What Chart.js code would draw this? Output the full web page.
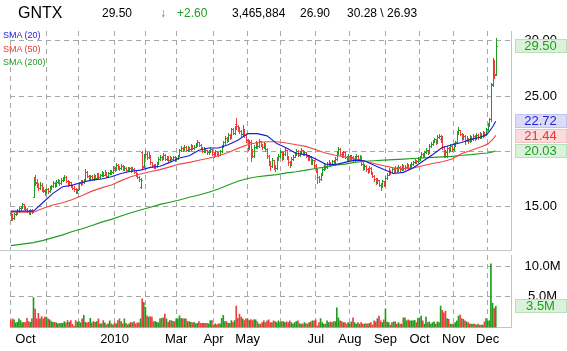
<!DOCTYPE html>
<html>
<head>
<meta charset="utf-8">
<script src="https://cdn.jsdelivr.net/npm/chart.js@4.4.1/dist/chart.umd.min.js"></script>
<style>
  body { margin: 0; background: #fff; }
  #wrap { position: relative; width: 567px; height: 351px; overflow: hidden; font-family: 'Liberation Sans', Arial, sans-serif; }
  #wrap canvas { position: absolute; left: 0; }
  .t { position: absolute; white-space: nowrap; line-height: 1; }
  .hd { top: 7px; font-size: 12px; color: #000; }
  .lg { left: 3px; font-size: 9px; }
  #sep { position: absolute; left: 0; top: 250px; width: 511px; height: 1px; background: #c6cac6; }
</style>
</head>
<body>
<div id="wrap">
  <canvas id="priceChart" width="567" height="251" style="top:0"></canvas>
  <canvas id="volumeChart" width="567" height="100" style="top:251px"></canvas>
  <div id="sep"></div>
  <span class="t" style="left:18px;top:5px;font-size:16px;color:#000">GNTX</span>
  <span class="t hd" style="left:102px">29.50</span>
  <span class="t hd" style="left:160px;color:#e83232">&#8595;</span>
  <span class="t hd" style="left:177px;color:#1f9f1f">+2.60</span>
  <span class="t hd" style="left:232px">3,465,884</span>
  <span class="t hd" style="left:300px">26.90</span>
  <span class="t hd" style="left:347px">30.28 \ 26.93</span>
  <span class="t lg" style="top:31px;color:#2222dd">SMA (20)</span>
  <span class="t lg" style="top:44.5px;color:#ee3333">SMA (50)</span>
  <span class="t lg" style="top:57.5px;color:#1f9f1f">SMA (200)</span>
</div>
<script>
// daily bars, Oct 1 2009 .. Dec 2010 (index = trading day)
const opens = [
  14.4, 14.1, 13.95, 14.3, 14.4, 14.6, 14.9, 15.0, 15.2, 14.95,
  14.8, 14.6, 14.4, 14.7, 15.9, 17.6, 17.2, 16.9, 16.7, 17.0,
  16.6, 16.5, 16.3, 16.6, 16.4, 16.75, 16.9, 17.1, 16.95, 17.2,
  17.35, 17.1, 17.4, 17.5, 17.7, 17.3, 17.0, 17.2, 16.9, 16.7,
  16.6, 16.35, 16.6, 17.1, 17.3, 17.2, 17.5, 18.1, 17.8, 17.6,
  17.75, 17.5, 17.8, 17.6, 17.9, 17.7, 17.85, 18.0, 17.9, 18.1,
  17.8, 18.0, 18.2, 18.1, 18.5, 18.4, 18.8, 18.55, 18.45, 18.7,
  18.4, 18.5, 18.3, 18.45, 18.5, 18.3, 18.4, 18.15, 17.9, 17.7,
  16.8, 19.9, 18.7, 19.6, 19.8, 19.5, 19.6, 19.0, 18.8, 18.6,
  18.7, 18.9, 19.3, 19.5, 19.4, 19.7, 19.3, 19.5, 19.2, 19.4,
  19.3, 19.5, 19.3, 19.4, 19.6, 20.1, 20.3, 20.2, 20.4, 20.1,
  20.3, 20.2, 20.5, 20.3, 20.4, 20.6, 20.8, 20.6, 20.3, 20.0,
  20.2, 20.1, 19.9, 20.0, 20.2, 19.8, 19.7, 20.0, 19.8, 19.7,
  20.0, 20.4, 20.8, 21.2, 21.0, 21.5, 21.3, 22.0, 21.7, 22.5,
  22.3, 22.0, 21.8, 21.6, 22.0, 21.5, 21.0, 20.3, 20.8, 20.0,
  19.6, 20.4, 20.7, 20.5, 20.9, 20.6, 20.4, 20.7, 20.2, 19.6,
  19.0, 18.7, 19.2, 18.6, 18.5, 19.3, 19.6, 19.9, 19.4, 19.8,
  20.1, 19.5, 19.0, 18.9, 19.3, 19.5, 19.8, 20.0, 19.7, 19.9,
  20.1, 19.8, 19.9, 19.6, 19.3, 19.5, 19.0, 19.2, 18.8, 18.3,
  17.7, 17.5, 17.9, 18.4, 18.7, 18.6, 18.9, 19.0, 18.8, 19.1,
  19.0, 19.3, 19.9, 20.2, 19.8, 19.6, 19.9, 19.5, 19.3, 19.6,
  19.4, 19.5, 19.2, 19.4, 19.6, 19.3, 19.5, 18.9, 18.5, 18.7,
  18.4, 18.2, 18.5, 18.1, 17.8, 17.5, 17.2, 17.4, 17.0, 16.9,
  17.3, 17.0, 17.6, 17.9, 18.3, 18.1, 18.4, 18.2, 18.5, 18.3,
  18.6, 18.4, 18.7, 18.5, 18.6, 18.8, 18.5, 18.7, 18.9, 19.0,
  19.2, 19.1, 19.3, 19.5, 19.8, 19.6, 19.9, 20.1, 19.9, 20.5,
  20.7, 20.9, 21.1, 20.8, 21.3, 21.1, 21.3, 20.4, 20.0, 19.9,
  20.3, 20.1, 20.5, 20.2, 20.6, 20.8, 21.7, 21.9, 21.6, 21.2,
  21.4, 21.0, 21.2, 20.9, 21.3, 21.1, 21.4, 21.2, 21.5, 21.3,
  21.6, 21.4, 21.7, 21.5, 22.0, 22.5, 22.9, 26.1, 27.9, 26.95
];
const highs = [
  14.5, 14.3, 14.4, 14.6, 14.8, 15.0, 15.1, 15.3, 15.25, 15.1,
  14.9, 14.7, 14.8, 14.8, 17.7, 17.85, 17.5, 17.1, 17.2, 17.1,
  16.8, 16.6, 16.7, 16.7, 16.9, 17.0, 17.3, 17.2, 17.4, 17.5,
  17.45, 17.55, 17.65, 17.9, 17.75, 17.4, 17.35, 17.25, 17.0, 16.85,
  16.7, 16.6, 17.2, 17.45, 17.4, 17.5, 18.4, 18.2, 17.9, 17.9,
  17.85, 17.95, 17.9, 18.05, 18.0, 17.95, 18.2, 18.1, 18.3, 18.15,
  18.1, 18.35, 18.3, 18.7, 18.6, 18.97, 18.85, 18.65, 18.85, 18.75,
  18.65, 18.55, 18.6, 18.6, 18.55, 18.55, 18.45, 18.2, 18.0, 17.8,
  17.55, 20.0, 19.75, 20.1, 19.9, 19.9, 19.65, 19.05, 18.9, 18.85,
  19.05, 19.45, 19.7, 19.6, 19.85, 19.75, 19.6, 19.55, 19.55, 19.5,
  19.6, 19.55, 19.5, 19.7, 20.2, 20.5, 20.4, 20.6, 20.5, 20.45,
  20.35, 20.65, 20.55, 20.55, 20.75, 21.0, 20.85, 20.65, 20.35, 20.35,
  20.3, 20.15, 20.15, 20.35, 20.25, 19.9, 20.15, 20.05, 19.9, 20.15,
  20.55, 20.95, 21.35, 21.3, 21.65, 21.6, 22.15, 22.1, 22.3, 23.0,
  22.4, 22.2, 21.9, 22.4, 22.05, 21.6, 21.1, 21.0, 21.0, 20.2,
  20.6, 20.9, 20.8, 21.1, 20.95, 20.7, 20.85, 20.75, 20.3, 19.7,
  19.1, 19.4, 19.25, 18.8, 19.45, 19.8, 20.1, 20.0, 19.95, 20.35,
  20.15, 19.6, 19.15, 19.45, 19.65, 19.95, 20.2, 20.1, 20.05, 20.3,
  20.15, 20.05, 19.95, 19.65, 19.7, 19.55, 19.35, 19.25, 18.85, 18.4,
  17.8, 18.05, 18.5, 18.85, 18.75, 19.05, 19.2, 19.05, 19.25, 19.2,
  19.45, 20.05, 20.4, 20.3, 19.9, 20.05, 19.95, 19.6, 19.75, 19.65,
  19.7, 19.55, 19.55, 19.8, 19.65, 19.65, 19.55, 19.0, 18.85, 18.75,
  18.5, 18.65, 18.55, 18.15, 17.9, 17.6, 17.6, 17.45, 17.1, 17.45,
  17.35, 17.75, 18.05, 18.45, 18.35, 18.55, 18.45, 18.65, 18.55, 18.75,
  18.65, 18.85, 18.75, 18.75, 18.95, 18.85, 18.85, 19.05, 19.15, 19.35,
  19.25, 19.45, 19.6, 19.95, 19.85, 20.05, 20.3, 20.15, 20.65, 20.85,
  21.05, 21.25, 21.15, 21.5, 21.6, 21.5, 21.35, 20.5, 20.1, 20.45,
  20.35, 20.65, 20.55, 20.75, 20.95, 21.85, 22.2, 21.95, 21.65, 21.55,
  21.45, 21.35, 21.25, 21.45, 21.35, 21.55, 21.45, 21.65, 21.55, 21.75,
  21.65, 21.85, 21.75, 22.1, 22.6, 23.0, 26.2, 28.4, 28.3, 30.28
];
const lows = [
  13.8, 13.8, 13.9, 14.2, 14.3, 14.5, 14.7, 14.9, 14.8, 14.7,
  14.5, 14.3, 14.35, 14.4, 15.9, 17.0, 16.8, 16.5, 16.6, 16.45,
  16.3, 16.05, 16.2, 16.2, 16.35, 16.6, 16.8, 16.8, 16.9, 17.1,
  17.0, 17.05, 17.3, 17.4, 17.2, 16.9, 16.95, 16.8, 16.55, 16.4,
  16.2, 16.25, 16.55, 17.0, 17.05, 17.1, 17.5, 17.7, 17.45, 17.5,
  17.4, 17.45, 17.5, 17.55, 17.6, 17.6, 17.8, 17.75, 17.85, 17.7,
  17.7, 17.95, 17.95, 18.05, 18.2, 18.35, 18.4, 18.3, 18.4, 18.3,
  18.3, 18.15, 18.2, 18.3, 18.15, 18.2, 18.0, 17.75, 17.55, 17.35,
  16.65, 18.45, 18.6, 19.5, 19.3, 19.4, 18.9, 18.6, 18.45, 18.5,
  18.6, 18.85, 19.2, 19.25, 19.35, 19.2, 19.2, 19.05, 19.1, 19.15,
  19.2, 19.15, 19.2, 19.3, 19.55, 20.0, 20.0, 20.1, 20.0, 20.0,
  20.05, 20.15, 20.2, 20.2, 20.35, 20.5, 20.5, 20.2, 19.9, 19.9,
  19.95, 19.75, 19.8, 19.95, 19.7, 19.5, 19.65, 19.7, 19.55, 19.65,
  19.95, 20.35, 20.7, 20.85, 20.95, 21.15, 21.25, 21.55, 21.6, 22.0,
  21.85, 21.65, 21.4, 21.5, 21.3, 20.8, 20.1, 20.2, 19.1, 19.5,
  19.5, 20.3, 20.3, 20.4, 20.45, 20.2, 20.3, 20.0, 19.4, 18.8,
  18.3, 18.6, 18.4, 18.2, 18.4, 19.2, 19.5, 19.2, 19.3, 19.7,
  19.35, 18.8, 18.6, 18.8, 19.2, 19.45, 19.7, 19.6, 19.6, 19.8,
  19.7, 19.7, 19.5, 19.2, 19.2, 18.9, 18.9, 18.6, 18.1, 17.1,
  17.2, 17.4, 17.85, 18.3, 18.4, 18.5, 18.8, 18.65, 18.75, 18.85,
  18.95, 19.25, 19.8, 19.65, 19.45, 19.5, 19.4, 19.15, 19.2, 19.25,
  19.3, 19.05, 19.1, 19.3, 19.2, 19.2, 18.8, 18.35, 18.4, 18.25,
  18.05, 18.1, 17.95, 17.65, 17.35, 17.05, 17.1, 16.85, 16.5, 16.8,
  16.85, 16.95, 17.5, 17.85, 17.95, 18.0, 18.05, 18.1, 18.15, 18.2,
  18.25, 18.3, 18.35, 18.4, 18.5, 18.4, 18.45, 18.6, 18.8, 18.95,
  18.95, 19.05, 19.2, 19.45, 19.45, 19.5, 19.85, 19.75, 19.85, 20.4,
  20.6, 20.8, 20.65, 20.75, 21.2, 20.8, 20.25, 19.5, 19.5, 19.5,
  19.95, 20.0, 20.05, 20.1, 20.5, 20.75, 21.6, 21.45, 21.05, 21.1,
  20.7, 20.9, 20.75, 20.85, 20.95, 21.0, 21.05, 21.1, 21.15, 21.2,
  21.25, 21.3, 21.35, 21.45, 21.9, 22.3, 22.7, 25.9, 26.6, 26.93
];
const closes = [
  14.1, 13.95, 14.3, 14.45, 14.6, 14.85, 15.0, 15.2, 14.95, 14.8,
  14.6, 14.4, 14.7, 14.5, 17.4, 17.15, 16.9, 16.7, 17.0, 16.6,
  16.45, 16.3, 16.6, 16.4, 16.75, 16.9, 17.1, 16.95, 17.25, 17.35,
  17.1, 17.4, 17.5, 17.7, 17.3, 17.0, 17.2, 16.9, 16.7, 16.6,
  16.35, 16.5, 17.1, 17.3, 17.2, 17.4, 18.1, 17.8, 17.6, 17.75,
  17.5, 17.8, 17.6, 17.9, 17.7, 17.85, 18.0, 17.9, 18.1, 17.8,
  18.0, 18.2, 18.1, 18.5, 18.4, 18.8, 18.55, 18.45, 18.7, 18.4,
  18.5, 18.3, 18.45, 18.5, 18.3, 18.4, 18.15, 17.9, 17.7, 17.5,
  17.4, 18.6, 19.6, 19.8, 19.5, 19.7, 19.0, 18.8, 18.6, 18.7,
  18.9, 19.3, 19.5, 19.4, 19.7, 19.3, 19.5, 19.2, 19.4, 19.3,
  19.5, 19.3, 19.4, 19.6, 20.1, 20.3, 20.2, 20.4, 20.1, 20.3,
  20.2, 20.5, 20.3, 20.4, 20.6, 20.8, 20.6, 20.3, 20.0, 20.2,
  20.1, 19.9, 20.0, 20.2, 19.8, 19.7, 20.0, 19.8, 19.7, 20.0,
  20.4, 20.8, 21.2, 21.0, 21.5, 21.3, 22.0, 21.7, 22.1, 22.3,
  22.0, 21.8, 21.6, 22.0, 21.5, 21.0, 20.3, 20.8, 20.0, 19.6,
  20.4, 20.7, 20.5, 20.9, 20.6, 20.4, 20.7, 20.2, 19.6, 19.0,
  18.7, 19.2, 18.6, 18.5, 19.3, 19.6, 19.9, 19.4, 19.8, 20.1,
  19.5, 19.0, 18.9, 19.3, 19.5, 19.8, 20.0, 19.7, 19.9, 20.1,
  19.8, 19.9, 19.6, 19.3, 19.5, 19.0, 19.2, 18.8, 18.3, 17.7,
  17.5, 17.9, 18.4, 18.7, 18.6, 18.9, 19.0, 18.8, 19.1, 19.0,
  19.3, 19.9, 20.2, 19.8, 19.6, 19.9, 19.5, 19.3, 19.6, 19.4,
  19.5, 19.2, 19.4, 19.6, 19.3, 19.5, 18.9, 18.5, 18.7, 18.4,
  18.2, 18.5, 18.1, 17.8, 17.5, 17.2, 17.4, 17.0, 16.9, 17.3,
  17.0, 17.6, 17.9, 18.3, 18.1, 18.4, 18.2, 18.5, 18.3, 18.6,
  18.4, 18.7, 18.5, 18.6, 18.8, 18.5, 18.7, 18.9, 19.0, 19.2,
  19.1, 19.3, 19.5, 19.8, 19.6, 19.9, 20.1, 19.9, 20.5, 20.7,
  20.9, 21.1, 20.8, 21.3, 21.4, 21.3, 20.4, 20.0, 19.9, 20.3,
  20.1, 20.5, 20.2, 20.6, 20.8, 21.7, 21.9, 21.6, 21.2, 21.4,
  21.0, 21.2, 20.9, 21.3, 21.1, 21.4, 21.2, 21.5, 21.3, 21.6,
  21.4, 21.7, 21.5, 22.0, 22.5, 22.9, 26.0, 27.9, 26.9, 29.5
];
// volume, millions of shares
const volumes = [
  1.13, 1.40, 1.24, 0.75, 0.86, 1.40, 1.13, 0.75, 0.86, 0.86,
  1.50, 0.97, 0.86, 1.40, 4.90, 3.00, 1.40, 2.30, 1.40, 1.80,
  1.40, 1.70, 1.70, 1.40, 1.24, 0.97, 0.86, 0.86, 0.75, 0.60,
  0.70, 0.70, 0.70, 0.97, 0.75, 1.13, 0.86, 1.13, 0.50, 0.20,
  1.13, 0.90, 0.97, 0.75, 1.40, 2.00, 0.86, 0.75, 0.86, 1.50,
  0.75, 0.97, 0.86, 0.97, 1.40, 0.60, 0.60, 1.13, 0.75, 0.43,
  0.60, 1.10, 0.60, 0.43, 0.75, 0.60, 1.13, 1.40, 0.97, 0.60,
  1.40, 0.70, 0.43, 0.60, 0.86, 0.75, 0.97, 0.60, 0.75, 0.75,
  1.40, 4.70, 4.10, 3.30, 1.90, 1.70, 1.80, 1.70, 0.97, 0.97,
  0.86, 0.75, 1.40, 1.50, 1.60, 2.20, 1.40, 0.86, 1.13, 1.13,
  0.97, 0.97, 1.40, 1.40, 1.90, 1.50, 1.40, 1.40, 1.40, 0.97,
  0.97, 0.86, 0.75, 0.86, 0.60, 0.70, 0.97, 0.70, 0.70, 0.70,
  0.70, 0.70, 0.60, 1.13, 1.13, 0.43, 0.60, 0.43, 0.60, 0.60,
  1.50, 2.00, 0.97, 0.97, 0.70, 0.70, 1.13, 0.86, 1.13, 3.50,
  1.50, 2.20, 1.70, 1.40, 1.13, 1.40, 1.40, 1.13, 1.30, 1.13,
  1.30, 1.24, 0.91, 0.54, 0.54, 0.81, 1.08, 0.81, 1.08, 1.24,
  0.81, 0.81, 1.08, 0.97, 0.81, 1.08, 0.81, 0.97, 0.97, 0.81,
  0.91, 0.81, 1.08, 0.81, 0.54, 0.81, 0.97, 1.08, 0.65, 0.54,
  0.54, 0.80, 0.65, 0.54, 0.81, 0.91, 1.08, 1.08, 1.24, 0.27,
  0.81, 1.45, 0.81, 0.54, 0.54, 1.08, 0.81, 0.91, 0.81, 0.97,
  0.97, 3.20, 1.60, 1.08, 0.97, 0.81, 0.81, 0.54, 0.81, 0.65,
  0.91, 1.60, 0.81, 0.54, 0.81, 0.54, 0.81, 0.54, 0.54, 0.65,
  0.54, 0.65, 0.81, 0.38, 1.08, 0.91, 1.45, 1.88, 1.08, 0.81,
  1.24, 3.06, 0.90, 0.81, 0.38, 0.81, 0.91, 0.91, 0.54, 0.81,
  0.54, 0.54, 1.60, 1.60, 1.08, 1.24, 1.08, 1.08, 1.08, 1.18,
  0.81, 1.51, 1.60, 1.88, 1.08, 0.54, 1.72, 0.81, 0.91, 0.54,
  0.81, 0.91, 0.54, 0.91, 0.81, 3.50, 2.80, 2.40, 2.70, 1.45,
  1.34, 0.54, 0.54, 0.54, 0.81, 1.08, 1.88, 2.04, 1.45, 1.34,
  1.08, 0.91, 0.81, 0.54, 0.54, 0.54, 0.54, 0.38, 0.54, 0.38,
  0.38, 0.38, 0.91, 1.45, 1.08, 1.08, 10.40, 4.00, 3.10, 3.47
];

const smaIdx = [0, 14, 20, 26, 32, 38, 44, 50, 56, 62, 68, 74, 80, 86, 92, 98, 104, 110, 116, 122,
  128, 134, 140, 146, 152, 158, 164, 170, 176, 182, 188, 194, 200, 206, 212, 218, 224, 230, 236, 242,
  248, 254, 260, 266, 272, 278, 284, 290, 294, 297, 299];
const sma20 = [14.6, 14.6, 15.4, 16.2, 16.8, 16.95, 17.2, 17.4, 17.5, 17.7, 18.0, 18.2, 18.3, 18.55, 18.65,
  19.0, 19.4, 19.6, 20.1, 20.3, 20.3, 20.6, 21.0, 21.6, 21.6, 21.4, 20.7, 20.3, 19.8, 19.7, 19.3, 18.85,
  18.8, 19.0, 19.2, 19.15, 18.75, 18.35, 18.0, 18.1, 18.5, 19.1, 19.7, 20.35, 20.6, 20.8, 21.1, 21.3,
  21.6, 22.2, 22.72];
const sma50 = [14.5, 14.5, 14.85, 15.15, 15.35, 15.65, 16.0, 16.4, 16.7, 16.95, 17.35, 17.7, 17.95, 18.15,
  18.35, 18.6, 18.85, 19.0, 19.2, 19.37, 19.6, 19.9, 20.27, 20.6, 20.8, 20.87, 20.87, 20.75, 20.6, 20.45,
  20.15, 19.85, 19.65, 19.5, 19.3, 19.1, 18.9, 18.7, 18.5, 18.45, 18.5, 18.7, 18.9, 19.06, 19.3, 19.8,
  20.1, 20.42, 20.65, 21.05, 21.44];
const sma200 = [11.47, 11.75, 11.95, 12.2, 12.45, 12.75, 13.0, 13.3, 13.6, 13.85, 14.15, 14.45, 14.7, 14.95,
  15.2, 15.4, 15.6, 15.85, 16.05, 16.3, 16.6, 16.95, 17.3, 17.55, 17.7, 17.8, 17.9, 18.05, 18.15, 18.3,
  18.45, 18.6, 18.75, 18.85, 19.0, 19.1, 19.15, 19.2, 19.25, 19.3, 19.35, 19.4, 19.45, 19.5, 19.55, 19.65,
  19.7, 19.8, 19.85, 19.95, 20.03];

// axis ticks
const monthStarts = [0, 22, 42, 64, 83, 102, 125, 146, 166, 188, 209, 231, 252, 273, 294];
const monthLabels = ['Oct', '', '', '2010', '', 'Mar', 'Apr', 'May', '', 'Jul', 'Aug', 'Sep', 'Oct', 'Nov', 'Dec'];
const priceTicks = [15, 20, 25, 30];
const volumeTicks = [5, 10];

const FONT = "'Liberation Sans', Arial, sans-serif";
const UP = '#1e9e1e';
const DOWN = '#f03c3c';
const GRID = '#a6a6a6';
const EDGE = '#c2c6c2';
const FIRST_LABEL_AT = 9; // first month label sits right of its gridline

function xAxis(withLabels) {
  return {
    type: 'linear',
    min: -0.49,
    max: 308.39,
    offset: false,
    afterBuildTicks: s => {
      s.ticks = monthStarts.map(v => ({ value: v }));
      if (withLabels) s.ticks.splice(1, 0, { value: FIRST_LABEL_AT });
    },
    afterFit: s => {
      s.height = withLabels ? 23.5 : 0;
      s.paddingLeft = 0;
      s.paddingRight = 0;
    },
    ticks: {
      display: withLabels,
      autoSkip: false,
      maxRotation: 0,
      padding: 4,
      color: '#000',
      font: { family: FONT, size: 13 },
      callback: v => {
        if (v === FIRST_LABEL_AT) return monthLabels[0];
        const k = monthStarts.indexOf(v);
        return k > 0 ? monthLabels[k] : '';
      }
    },
    grid: {
      offset: false,
      drawTicks: false,
      color: c => (c.tick && c.tick.value === FIRST_LABEL_AT) ? 'rgba(0,0,0,0)' : GRID
    },
    border: { display: true, color: EDGE, dash: [5, 4] }
  };
}

function yAxis(min, max, ticks, fmt) {
  return {
    position: 'right',
    min: min,
    max: max,
    afterBuildTicks: s => { s.ticks = ticks.map(v => ({ value: v })); },
    afterFit: s => {
      s.width = 56;
      s.paddingTop = 0;
      s.paddingBottom = 0;
    },
    ticks: { color: '#000', font: { family: FONT, size: 13 }, crossAlign: 'center', padding: 13.5, callback: fmt },
    grid: { color: GRID, drawTicks: false },
    border: { display: true, color: EDGE, dash: [5, 4] }
  };
}

function drawTags(chart, tags) {
  const { ctx, chartArea } = chart;
  const x0 = chartArea.right + 4;
  const w = chart.width - x0;
  const h = 14;
  tags.sort((a, b) => a.y - b.y);
  let lastBottom = -Infinity;
  ctx.save();
  ctx.font = '13px ' + FONT;
  ctx.textAlign = 'center';
  ctx.textBaseline = 'middle';
  tags.forEach(t => {
    let top = Math.round(t.y - h / 2);
    if (top < lastBottom + 1) top = lastBottom + 1;
    lastBottom = top + h;
    ctx.fillStyle = t.bg;
    ctx.fillRect(x0, top, w, h);
    ctx.strokeStyle = t.edge;
    ctx.setLineDash([1, 1]);
    ctx.strokeRect(x0 + 0.5, top + 0.5, w - 1, h - 1);
    ctx.fillStyle = t.fg;
    ctx.fillText(t.text, x0 + w / 2 - 0.5, top + h / 2 + 0.5);
  });
  ctx.restore();
}

const ohlcBars = {
  id: 'ohlcBars',
  beforeDatasetsDraw(chart) {
    const { ctx, scales: { x, y } } = chart;
    ctx.save();
    for (let i = 0; i < closes.length; i++) {
      const px = Math.round(x.getPixelForValue(i));
      const yh = Math.round(y.getPixelForValue(highs[i]));
      const yl = Math.round(y.getPixelForValue(lows[i]));
      const yo = Math.round(y.getPixelForValue(opens[i]));
      const yc = Math.round(y.getPixelForValue(closes[i]));
      ctx.fillStyle = closes[i] >= opens[i] ? UP : DOWN;
      ctx.fillRect(px, yh, 1, Math.max(1, yl - yh + 1));
      ctx.fillRect(px - 1, yo, 1, 1);
      ctx.fillRect(px + 1, yc, 1, 1);
    }
    ctx.restore();
  }
};

const priceTags = {
  id: 'priceTags',
  afterDraw(chart) {
    const y = chart.scales.y;
    const last = a => a[a.length - 1];
    drawTags(chart, [
      { y: y.getPixelForValue(last(closes)), text: last(closes).toFixed(2), fg: '#1e9e1e', bg: '#d9f2d9', edge: '#9ccc9c' },
      { y: y.getPixelForValue(last(sma20)), text: last(sma20).toFixed(2), fg: '#2222dd', bg: '#dcdcf8', edge: '#a8a8e8' },
      { y: y.getPixelForValue(last(sma50)), text: last(sma50).toFixed(2), fg: '#ee3333', bg: '#fadcdc', edge: '#eaa8a8' },
      { y: y.getPixelForValue(last(sma200)), text: last(sma200).toFixed(2), fg: '#1e9e1e', bg: '#d9f2d9', edge: '#9ccc9c' }
    ]);
  }
};

const volumeTags = {
  id: 'volumeTags',
  afterDraw(chart) {
    const v = volumes[volumes.length - 1];
    drawTags(chart, [
      { y: chart.scales.y.getPixelForValue(v), text: v.toFixed(1) + 'M', fg: '#1e9e1e', bg: '#d9f2d9', edge: '#9ccc9c' }
    ]);
  }
};

const smaLine = (vals, color) => ({
  data: smaIdx.map((x, k) => ({ x: x, y: vals[k] })),
  borderColor: color,
  borderWidth: 1.15,
  pointRadius: 0,
  tension: 0,
  fill: false
});

new Chart(document.getElementById('priceChart'), {
  type: 'line',
  data: {
    datasets: [
      smaLine(sma20, '#1c1cdc'),
      smaLine(sma50, '#f04848'),
      smaLine(sma200, '#1e9e1e')
    ]
  },
  options: {
    responsive: false,
    animation: false,
    devicePixelRatio: 1,
    layout: { padding: { left: 10, top: 31, right: 0, bottom: 1 } },
    plugins: { legend: { display: false }, tooltip: { enabled: false } },
    scales: {
      x: xAxis(false),
      y: yAxis(11.08, 30.88, priceTicks, v => v.toFixed(2))
    }
  },
  plugins: [ohlcBars, priceTags]
});

new Chart(document.getElementById('volumeChart'), {
  type: 'bar',
  data: {
    datasets: [{
      data: volumes.map((v, i) => ({ x: i, y: v })),
      backgroundColor: closes.map((c, i) => c >= opens[i] ? UP : DOWN),
      barThickness: 1,
      grouped: false
    }]
  },
  options: {
    responsive: false,
    animation: false,
    devicePixelRatio: 1,
    layout: { padding: { left: 10, top: 4, right: 0, bottom: 0 } },
    plugins: { legend: { display: false }, tooltip: { enabled: false } },
    scales: {
      x: xAxis(true),
      y: yAxis(0, 11.85, volumeTicks, v => v.toFixed(1) + 'M')
    }
  },
  plugins: [volumeTags]
});
</script>
</body>
</html>
